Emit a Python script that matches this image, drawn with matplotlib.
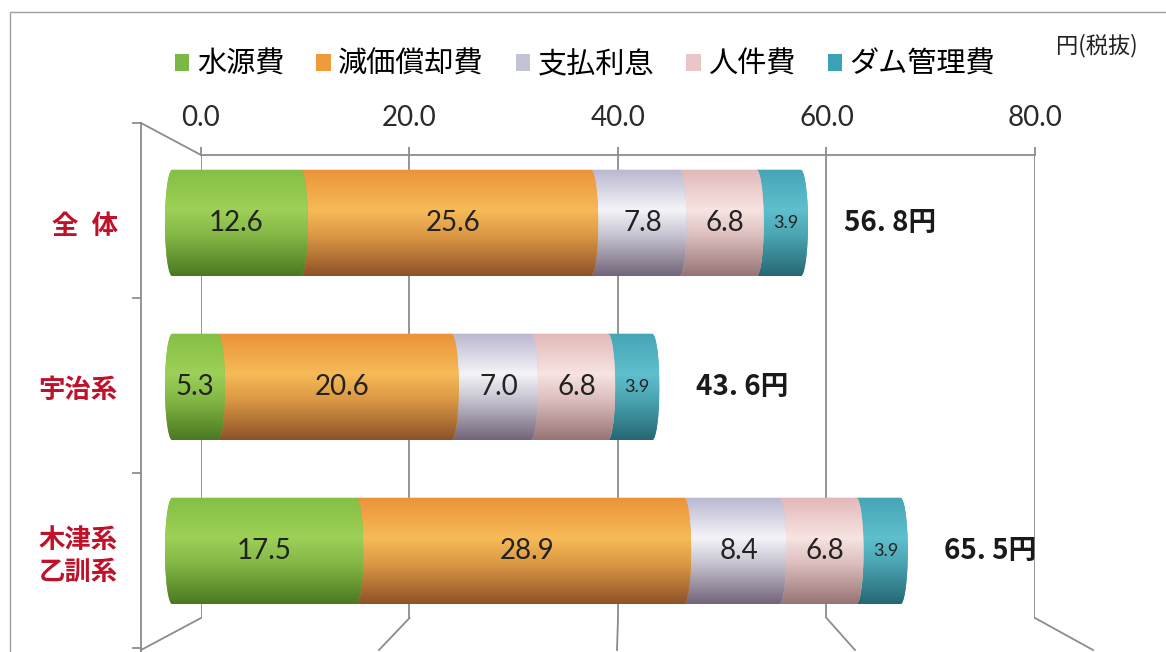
import numpy as np
import matplotlib
matplotlib.use('Agg')
import matplotlib.pyplot as plt
from matplotlib.path import Path
from matplotlib.patches import PathPatch, Rectangle
from matplotlib.lines import Line2D
from matplotlib.colors import to_rgb

# ---------------- data ----------------
categories = ['全\u2002体', '宇治系', '木津系\n乙訓系']
series_names = ['水源費', '減価償却費', '支払利息', '人件費', 'ダム管理費']
suigen = [12.6, 5.3, 17.5]
genka = [25.6, 20.6, 28.9]
shiharai = [7.8, 7.0, 8.4]
jinken = [6.8, 6.8, 6.8]
dam = [3.9, 3.9, 3.9]
totals = [56.7, 43.6, 65.5]
total_labels = ['56. 8円', '43. 6円', '65. 5円']
xticks = [0, 20, 40, 60, 80]
xticklabels = ['0.0', '20.0', '40.0', '60.0', '80.0']
unit_label = '円(税抜)'

# ---------------- styles ----------------
legend_colors = ['#7cb846', '#f09a3e', '#c3c3d6', '#ebc6c6', '#3aa2b6']
shade_colors = [
    ('#86bf45', '#9dd057', '#4b7821'),
    ('#eb9238', '#f6bb58', '#8e5228'),
    ('#b9b7cf', '#f4f4f8', '#72657a'),
    ('#e2b8b8', '#f7e4e2', '#987474'),
    ('#45a5b6', '#60bfcd', '#256873'),
]
grid_c = '#8c8c8c'
red_c = '#c0102a'

plt.rcParams['font.family'] = ['Noto Sans CJK JP', 'DejaVu Sans']

W, H = 1166, 652
fig = plt.figure(figsize=(W / 100, H / 100), dpi=100)


def fx(p):
    return p / W


def fy(p):
    return 1 - p / H


# outer frame (left and top edges visible)
fig.add_artist(Rectangle((fx(10), fy(700)), fx(1200) - fx(10), (700 - 12) / H,
                         transform=fig.transFigure, fill=False,
                         edgecolor='#a0a0a0', lw=1.0))

# ---------------- back plane (axis with ticks on top) ----------------
axb = fig.add_axes([fx(201), fy(618), fx(1035) - fx(201), (618 - 155) / H])
axb.set_xlim(0, 80)
axb.set_ylim(0, 1)
axb.patch.set_alpha(0)
for s in ['left', 'right', 'bottom']:
    axb.spines[s].set_visible(False)
axb.spines['top'].set_color(grid_c)
axb.spines['top'].set_linewidth(1.3)
axb.xaxis.tick_top()
axb.set_xticks(xticks)
axb.set_xticklabels(xticklabels, fontfamily='Lato', fontsize=20, color='#2a2a2a')
axb.tick_params(axis='x', length=6, width=1.3, color=grid_c, pad=11)
axb.set_yticks([])
axb.grid(axis='x', color=grid_c, lw=1.3)

# perspective decoration lines (floor / left wall)
back_scale = (1035 - 201) / 80
front_scale = 11.9
for v in xticks:
    bx = 201 + v * back_scale
    fxp = 141 + v * front_scale
    fig.add_artist(Line2D([fx(bx), fx(fxp)], [fy(618), fy(650)],
                          transform=fig.transFigure, color=grid_c, lw=1.3))
fig.add_artist(Line2D([fx(141), fx(141)], [fy(123), fy(652)],
                      transform=fig.transFigure, color=grid_c, lw=1.3))
fig.add_artist(Line2D([fx(141), fx(201)], [fy(123), fy(155)],
                      transform=fig.transFigure, color=grid_c, lw=1.3))
for ty in [123, 298, 473, 648]:
    fig.add_artist(Line2D([fx(133), fx(141)], [fy(ty), fy(ty)],
                          transform=fig.transFigure, color=grid_c, lw=1.3))

# ---------------- bars ----------------
scale = 11.34
ax = fig.add_axes([fx(165), fy(633), 80 * scale / W, 492 / H])
ax.set_zorder(3)
ax.patch.set_alpha(0)
for s in ax.spines.values():
    s.set_visible(False)

data = np.array([suigen, genka, shiharai, jinken, dam])
lefts = np.vstack([np.zeros(3), np.cumsum(data, axis=0)[:-1]])
ypos = np.arange(len(categories))
bh = 0.65
r = 0.65


def gradient(top, hi, bot, n=128):
    top, hi, bot = map(np.array, map(to_rgb, (top, hi, bot)))
    mid = top * 0.55 + bot * 0.45
    keys = [(0.0, top), (0.38, hi), (0.62, mid * 0.5 + hi * 0.5), (1.0, bot)]
    t = np.linspace(0, 1, n)
    out = np.zeros((n, 1, 3))
    for c in range(3):
        out[:, 0, c] = np.interp(t, [k[0] for k in keys], [k[1][c] for k in keys])
    return out


def seg_path(a, b, yc, first):
    yt, yb = yc - bh / 2, yc + bh / 2
    th = np.linspace(0, np.pi, 40)
    verts = []
    verts += list(zip(b - r + r * np.sin(th), yc - (bh / 2) * np.cos(th)))
    if first:
        verts += list(zip(a + r - r * np.sin(th), yc + (bh / 2) * np.cos(th)))
    else:
        verts += [(a - r, yb), (a - r, yt)]
    verts.append(verts[0])
    return Path(verts, closed=True)


handles = []
for j in range(len(series_names)):
    bars = ax.barh(ypos, data[j], left=lefts[j], height=bh,
                   color=legend_colors[j], label=series_names[j],
                   zorder=2 * (5 - j))
    handles.append(bars)
    g = gradient(*shade_colors[j])
    for i, rect in enumerate(bars):
        a = lefts[j, i]
        b = a + data[j, i]
        clip = PathPatch(seg_path(a, b, ypos[i], j == 0), transform=ax.transData,
                         facecolor='none', edgecolor='none')
        rect.set_clip_path(clip)
        im = ax.imshow(g, extent=(a - r, b, ypos[i] + bh / 2, ypos[i] - bh / 2),
                       aspect='auto', interpolation='bilinear', origin='upper',
                       zorder=2 * (5 - j) + 1)
        im.set_clip_path(clip)
        ax.text(a + data[j, i] / 2, ypos[i], f'{data[j, i]:.1f}',
                ha='center', va='center', fontfamily='Lato',
                fontsize=20 if j < 4 else 13, color='#222222', zorder=30)

for i in range(len(categories)):
    ax.annotate(total_labels[i], xy=(totals[i], ypos[i]), xytext=(26, 0),
                textcoords='offset points', ha='left', va='center',
                fontsize=20, fontweight='bold', color='#1a1a1a', zorder=30)

ax.set_xlim(0, 80)
ax.set_ylim(2.5, -0.5)
ax.set_xticks([])
ax.set_yticks(ypos)
ax.set_yticklabels(categories, color=red_c, fontsize=19, fontweight='bold',
                   linespacing=1.25)
ax.tick_params(axis='y', length=0, pad=34)

# ---------------- legend & unit ----------------
fig.legend(handles=handles, labels=series_names, loc='center',
           bbox_to_anchor=(fx(585), fy(65)), ncol=5, frameon=False,
           prop={'family': ['Noto Sans CJK JP'], 'size': 21},
           handlelength=0.5, handleheight=0.5, handletextpad=0.25,
           columnspacing=1.1)
fig.text(fx(1056), fy(46), unit_label, ha='left', va='center', fontsize=16,
         color='#222222')

fig.savefig('out.png', dpi=100)
